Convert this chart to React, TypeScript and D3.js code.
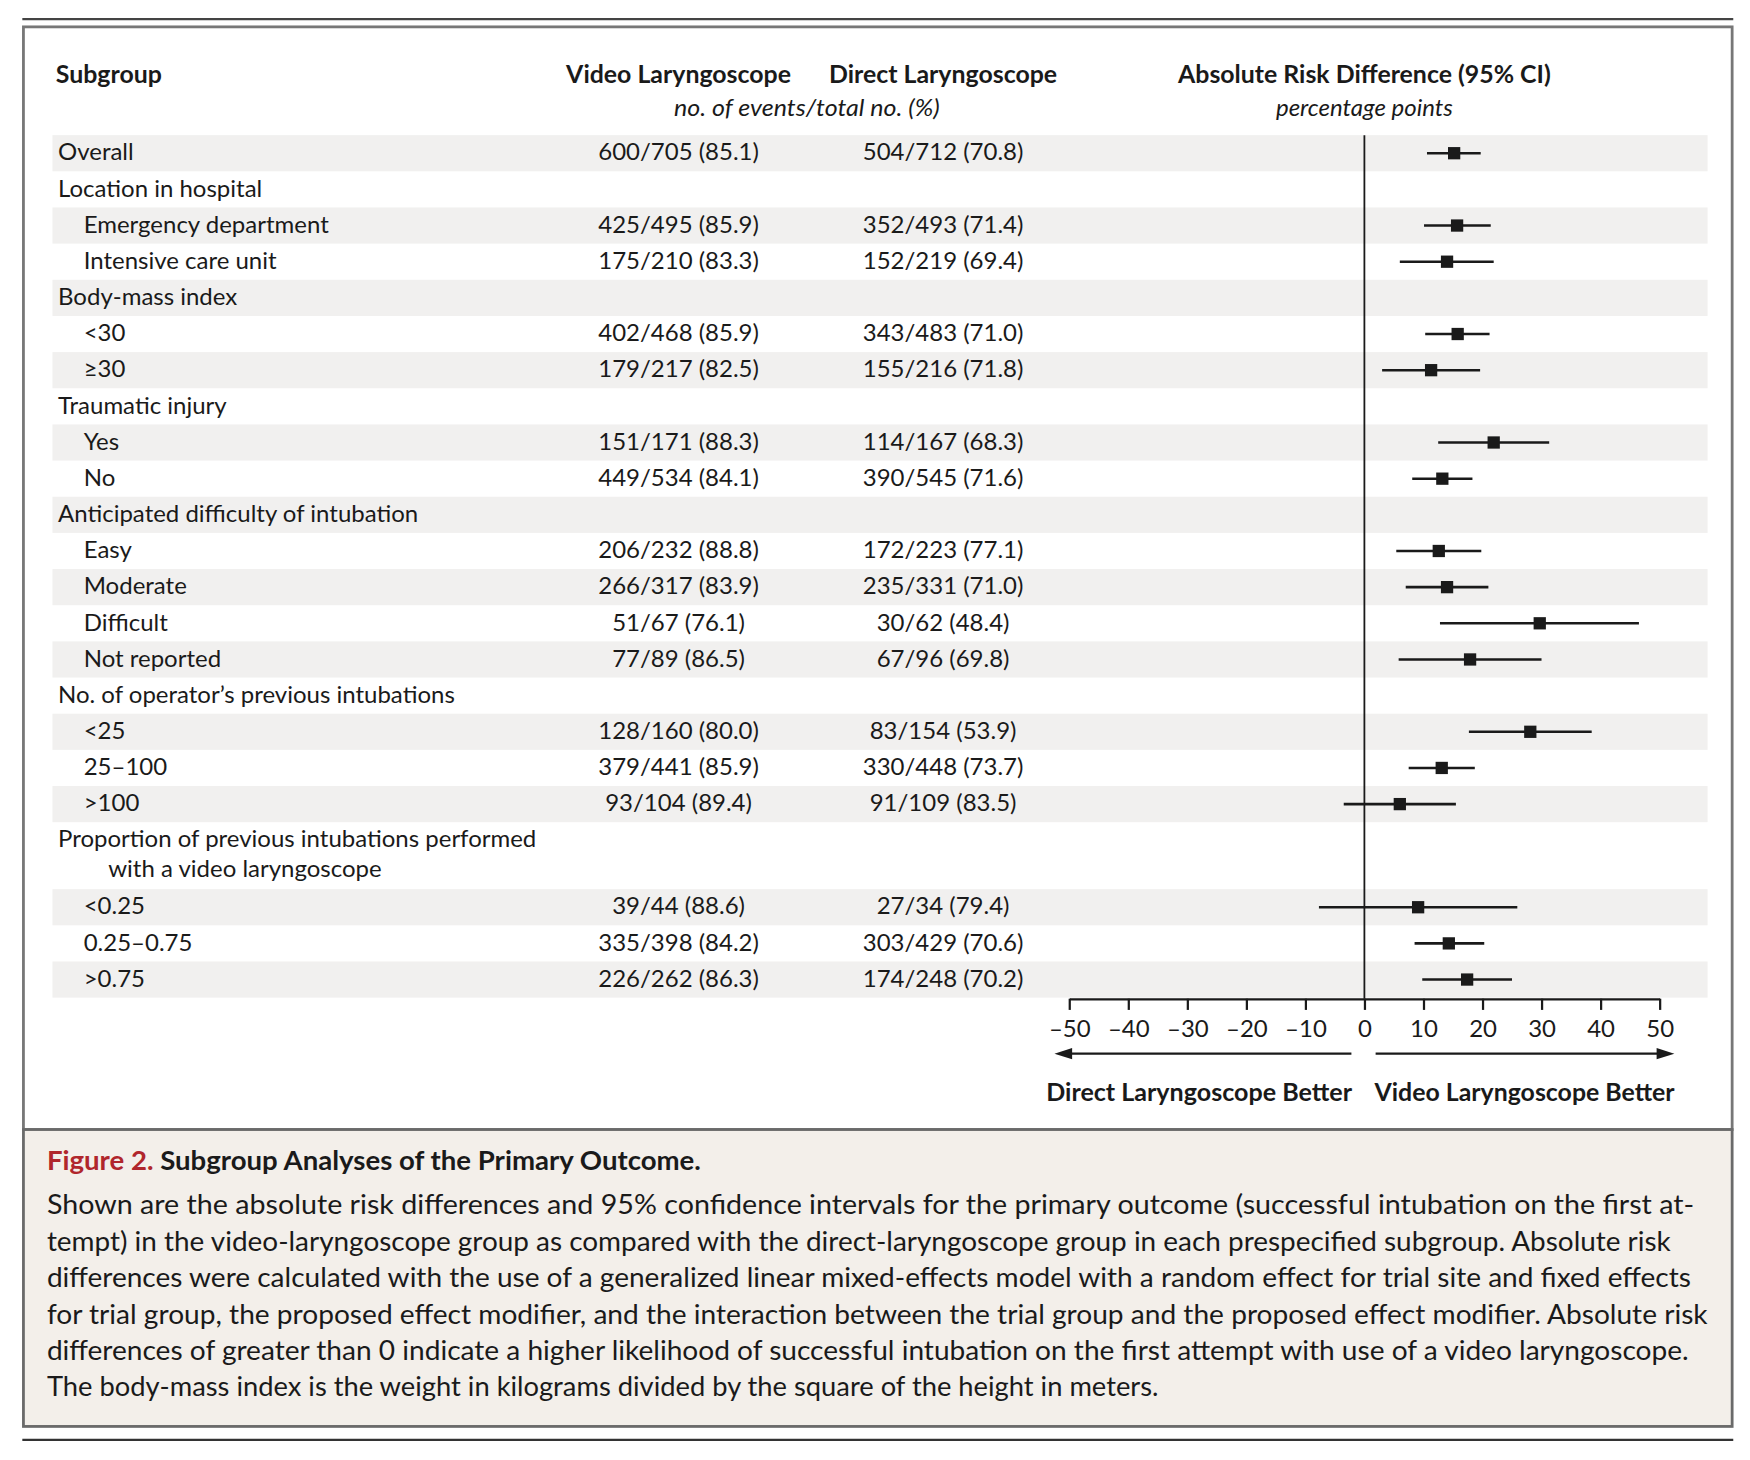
import { useEffect, useRef } from 'react';
import * as d3 from 'd3';

// Subgroup rows, top to bottom
const subgroups = [
  'Overall',
  'Location in hospital',
  'Emergency department',
  'Intensive care unit',
  'Body-mass index',
  '<30',
  '≥30',
  'Traumatic injury',
  'Yes',
  'No',
  'Anticipated difficulty of intubation',
  'Easy',
  'Moderate',
  'Difficult',
  'Not reported',
  'No. of operator’s previous intubations',
  '<25',
  '25–100',
  '>100',
  'Proportion of previous intubations performed\nwith a video laryngoscope',
  '<0.25',
  '0.25–0.75',
  '>0.75',
];

// 0 = heading, 1 = indented level
const level = [0, 0, 1, 1, 0, 1, 1, 0, 1, 1, 0, 1, 1, 1, 1, 0, 1, 1, 1, 0, 1, 1, 1];

const videoCounts = [
  '600/705 (85.1)', '', '425/495 (85.9)', '175/210 (83.3)', '', '402/468 (85.9)', '179/217 (82.5)',
  '', '151/171 (88.3)', '449/534 (84.1)', '', '206/232 (88.8)', '266/317 (83.9)', '51/67 (76.1)',
  '77/89 (86.5)', '', '128/160 (80.0)', '379/441 (85.9)', '93/104 (89.4)', '', '39/44 (88.6)',
  '335/398 (84.2)', '226/262 (86.3)',
];

const directCounts = [
  '504/712 (70.8)', '', '352/493 (71.4)', '152/219 (69.4)', '', '343/483 (71.0)', '155/216 (71.8)',
  '', '114/167 (68.3)', '390/545 (71.6)', '', '172/223 (77.1)', '235/331 (71.0)', '30/62 (48.4)',
  '67/96 (69.8)', '', '83/154 (53.9)', '330/448 (73.7)', '91/109 (83.5)', '', '27/34 (79.4)',
  '303/429 (70.6)', '174/248 (70.2)',
];

// Absolute risk difference, percentage points
const estimate = [15.2, null, 15.7, 14.0, null, 15.8, 11.3, null, 21.9, 13.2, null, 12.6, 14.0, 29.7, 17.9, null, 28.1, 13.1, 6.0, null, 9.1, 14.3, 17.4];
const lower = [10.6, null, 10.1, 6.0, null, 10.3, 3.0, null, 12.5, 8.1, null, 5.4, 7.0, 12.8, 5.8, null, 17.7, 7.5, -3.5, null, -7.7, 8.5, 9.8];
const upper = [19.7, null, 21.4, 21.9, null, 21.2, 19.6, null, 31.3, 18.3, null, 19.8, 21.0, 46.5, 30.0, null, 38.5, 18.7, 15.5, null, 25.9, 20.3, 25.0];

const axisTicks = [-50, -40, -30, -20, -10, 0, 10, 20, 30, 40, 50];

const captionTitle = 'Figure 2.';
const captionHeading = 'Subgroup Analyses of the Primary Outcome.';
const captionLines = [
  'Shown are the absolute risk differences and 95% confidence intervals for the primary outcome (successful intubation on the first at-',
  'tempt) in the video-laryngoscope group as compared with the direct-laryngoscope group in each prespecified subgroup. Absolute risk',
  'differences were calculated with the use of a generalized linear mixed-effects model with a random effect for trial site and fixed effects',
  'for trial group, the proposed effect modifier, and the interaction between the trial group and the proposed effect modifier. Absolute risk',
  'differences of greater than 0 indicate a higher likelihood of successful intubation on the first attempt with use of a video laryngoscope.',
  'The body-mass index is the weight in kilograms divided by the square of the height in meters.',
];
const captionWidths = [1476, 1455, 1473, 1488, 1471, 996];

const W = 1568;
const H = 1308;
const FONT = "Lato, 'Noto Sans', sans-serif";
const INK = '#1a1a1a';

export default function App() {
  const axisRef = useRef<SVGGElement>(null);

  const x = d3.scaleLinear().domain([-50, 50]).range([958, 1487]);

  // row layout
  const rowTop = 121;
  const unit = 32.4;
  const rows = subgroups.map((s) => s.split('\n'));
  const heights = rows.map((l) => (l.length > 1 ? 60 : unit));
  const tops = heights.map((_, i) => rowTop + d3.sum(heights.slice(0, i)));
  const plotBottom = tops[tops.length - 1] + heights[heights.length - 1];

  useEffect(() => {
    if (!axisRef.current) return;
    const g = d3.select(axisRef.current);
    g.selectAll('*').remove();
    g.call(
      d3
        .axisBottom(x)
        .tickValues(axisTicks)
        .tickSize(10)
        .tickSizeOuter(0)
        .tickPadding(9)
        .tickFormat((d) => ((d as number) < 0 ? `–${-(d as number)}` : `${d}`))
    );
    g.attr('font-family', FONT).attr('font-size', 21.5);
    g.select('.domain').attr('stroke', INK).attr('stroke-width', 2);
    g.selectAll('.tick line').attr('stroke', INK).attr('stroke-width', 2);
    g.selectAll('.tick text').attr('fill', INK);
  }, []);

  const zero = x(0);
  const arrowY = 944;
  const base = 6.5;

  return (
    <div style={{ position: 'absolute', left: 0, top: 0, background: '#fff' }}>
      <svg width={1750} height={1460} viewBox={`0 0 ${W} ${H}`} fontFamily={FONT}>
        <rect x={0} y={0} width={W} height={H} fill="#fff" />

        {/* top rule and frames */}
        <line x1={20} x2={1553} y1={17} y2={17} stroke="#444" strokeWidth={2} />
        <rect x={21} y={24} width={1531} height={988} fill="#fff" stroke="#777" strokeWidth={2.5} />
        <rect x={21} y={1012} width={1531} height={266} fill="#f3efea" stroke="#6a6a6a" strokeWidth={2.5} />
        <line x1={20} x2={1553} y1={1290} y2={1290} stroke="#333" strokeWidth={2} />

        {/* column headers */}
        <g fontWeight={700} fontSize={22.3} fill={INK}>
          <text x={50} y={74}>Subgroup</text>
          <text x={608} y={74} textAnchor="middle">Video Laryngoscope</text>
          <text x={845} y={74} textAnchor="middle">Direct Laryngoscope</text>
          <text x={x(0)} y={74} textAnchor="middle">Absolute Risk Difference (95% CI)</text>
        </g>
        <g fontStyle="italic" fontSize={21.5} fill={INK}>
          <text x={723} y={104} textAnchor="middle" textLength={238} lengthAdjust="spacingAndGlyphs">
            no. of events/total no. (%)
          </text>
          <text x={x(0)} y={104} textAnchor="middle">percentage points</text>
        </g>

        {/* row shading */}
        {rows.map((_, i) =>
          i % 2 === 0 ? (
            <rect key={`bg${i}`} x={47} y={tops[i]} width={1483} height={heights[i]} fill="#f1f0ef" />
          ) : null
        )}

        {/* row text */}
        <g fontSize={21.5} fill={INK}>
          {rows.map((lines, i) => (
            <g key={`t${i}`}>
              {lines.map((ln, j) => (
                <text
                  key={j}
                  x={(level[i] ? 75 : 52) + (j > 0 ? 45 : 0)}
                  y={tops[i] + (lines.length > 1 ? 22 + j * 27 : heights[i] / 2 + base)}
                >
                  {ln}
                </text>
              ))}
              {videoCounts[i] && (
                <text x={608} y={tops[i] + heights[i] / 2 + base} textAnchor="middle">
                  {videoCounts[i]}
                </text>
              )}
              {directCounts[i] && (
                <text x={845} y={tops[i] + heights[i] / 2 + base} textAnchor="middle">
                  {directCounts[i]}
                </text>
              )}
            </g>
          ))}
        </g>

        {/* zero line */}
        <line x1={zero} x2={zero} y1={rowTop} y2={plotBottom + 1} stroke={INK} strokeWidth={1.6} />

        {/* estimates with CI */}
        {rows.map((_, i) => {
          const e = estimate[i];
          if (e == null) return null;
          const cy = tops[i] + heights[i] / 2;
          const s = 11;
          return (
            <g key={`f${i}`}>
              <line x1={x(lower[i] as number)} x2={x(upper[i] as number)} y1={cy} y2={cy} stroke={INK} strokeWidth={2.3} />
              <rect x={x(e) - s / 2} y={cy - s / 2} width={s} height={s} fill={INK} />
            </g>
          );
        })}

        {/* axis */}
        <g ref={axisRef} transform={`translate(0,${plotBottom + 1})`} />

        {/* direction arrows */}
        <g stroke={INK} strokeWidth={2} fill={INK}>
          <line x1={x(-2.2)} x2={x(-50)} y1={arrowY} y2={arrowY} />
          <path d={`M${x(-52.5)},${arrowY} L${x(-49.5)},${arrowY - 5} L${x(-49.5)},${arrowY + 5} Z`} stroke="none" />
          <line x1={x(1.9)} x2={x(50)} y1={arrowY} y2={arrowY} />
          <path d={`M${x(52.5)},${arrowY} L${x(49.5)},${arrowY - 5} L${x(49.5)},${arrowY + 5} Z`} stroke="none" />
        </g>
        <g fontWeight={700} fontSize={22.5} fill={INK}>
          <text x={x(-2.1)} y={986} textAnchor="end" textLength={274} lengthAdjust="spacingAndGlyphs">
            Direct Laryngoscope Better
          </text>
          <text x={x(1.7)} y={986} textLength={269} lengthAdjust="spacingAndGlyphs">
            Video Laryngoscope Better
          </text>
        </g>

        {/* caption */}
        <text x={42} y={1048} fontSize={24.5} fontWeight={700} fill={INK} textLength={586} lengthAdjust="spacingAndGlyphs">
          <tspan fill="#b0262c">{captionTitle}</tspan>
          <tspan> {captionHeading}</tspan>
        </text>
        <g fontSize={24} fill={INK}>
          {captionLines.map((ln, i) => (
            <text
              key={`c${i}`}
              x={42}
              y={1088 + i * 32.6}
              textLength={captionWidths[i]}
              lengthAdjust="spacingAndGlyphs"
            >
              {ln}
            </text>
          ))}
        </g>
      </svg>
    </div>
  );
}
